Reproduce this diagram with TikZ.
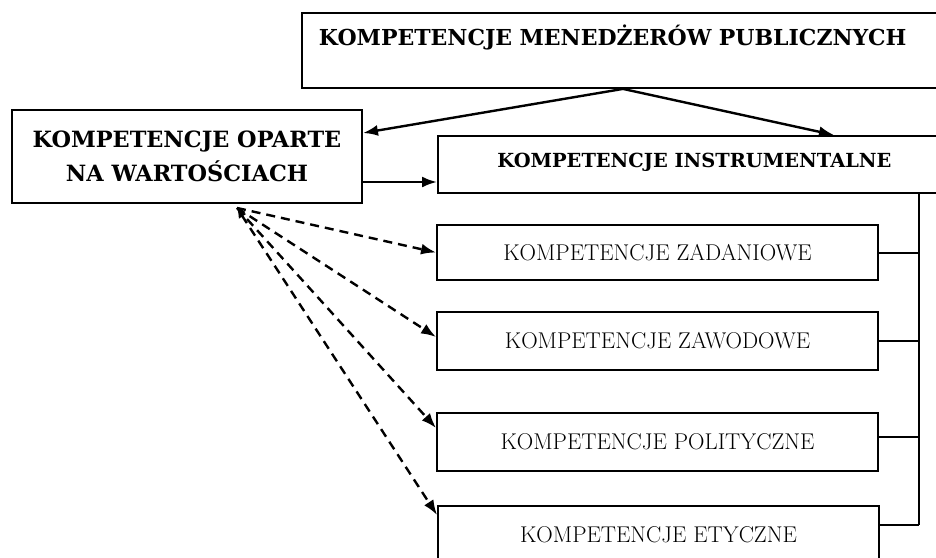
\documentclass[tikz,border=0pt]{standalone}
\usepackage{fontspec}
\newfontfamily\bookfont{DejaVu Serif}
\usetikzlibrary{positioning,
				arrows.meta,
				calc}

\begin{document}
\begin{tikzpicture}[x=1pt,y=-1pt,line width=1.9pt,
		box/.style={draw,rectangle,inner sep=0pt,font=\fontsize{22.8}{27}\selectfont},
		headbox/.style={box,font=\bookfont\bfseries\fontsize{22.4}{34}\selectfont},
		link/.style={line width=2.4pt,-{Latex[length=15pt,width=11pt]}},
		dlink/.style={link,dash pattern=on 9pt off 6pt}]
	\useasboundingbox (0,0) rectangle (936,557);
		\node[headbox,font=\bookfont\bfseries\fontsize{22}{34}\selectfont,anchor=north west,text width=626pt,inner xsep=17pt,align=left,text height=33pt,text depth=42pt] (mgr) at (301,12) {KOMPETENCJE MENEDŻERÓW PUBLICZNYCH};
		\node[headbox,align=center,minimum width=350pt,minimum height=93pt] (val) at (187,156.5) {KOMPETENCJE OPARTE\\NA WARTOŚCIACH};
		\node[headbox,font=\bookfont\bfseries\fontsize{19.4}{24}\selectfont,anchor=north west,minimum width=513pt,text height=32pt,text depth=25pt] (instr) at (437,135) {KOMPETENCJE INSTRUMENTALNE};
		\node[box,minimum width=441pt,minimum height=55pt] (zad) at (657.5,252.5) {KOMPETENCJE ZADANIOWE};
		\node[box,minimum width=441pt,minimum height=58pt] (zaw) at (657.5,341) {KOMPETENCJE ZAWODOWE};
		\node[box,minimum width=441pt,minimum height=58pt] (pol) at (657.5,442) {KOMPETENCJE POLITYCZNE};
		\node[box,minimum width=441pt,minimum height=58pt] (ety) at (658.5,535) {KOMPETENCJE ETYCZNE};
		\coordinate (trunktop) at (919,192);
		\coordinate (trunkbot) at (919,525);
		\coordinate (src) at ([xshift=50pt,yshift=-4pt]val.south);
		\draw (trunktop) -- (trunkbot);
		\foreach \n/\s in {zad/-0.5,zaw/0,pol/5,ety/10}
			\draw ([yshift=\s pt]\n.east) -- ([yshift=\s pt]\n.east -| trunktop);
		\draw[link] ([xshift=-9pt]mgr.south) -- ([yshift=23.5pt]val.east);
		\draw[link] ([xshift=-9pt]mgr.south) -- ([xshift=139.5pt]instr.north);
		\draw[link] ([yshift=-25.5pt]val.east) -- ([yshift=-25.5pt]val.east -| instr.west);
		\foreach \n/\s in {zad/0,zaw/4,pol/14}
			\draw[dlink] (src) -- ([yshift=\s pt]\n.west);
		\draw[dlink,{Latex[length=10pt,width=9pt]}-{Latex[length=15pt,width=11pt]}] (src) -- ([yshift=20pt]ety.west);
\end{tikzpicture}
\end{document}
